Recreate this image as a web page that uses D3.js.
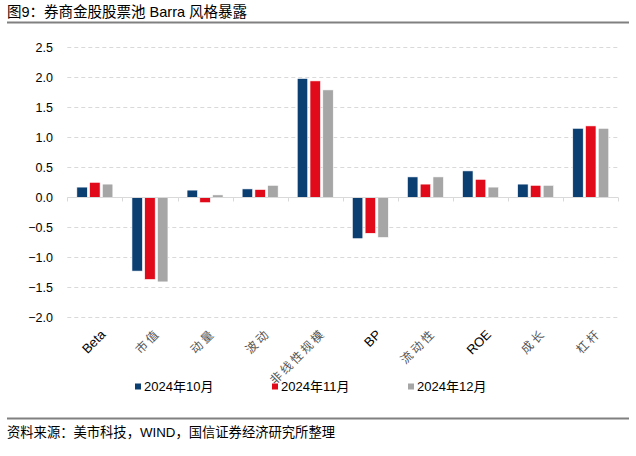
<!DOCTYPE html>
<html><head><meta charset="utf-8">
<script src="https://cdn.jsdelivr.net/npm/d3@7"></script>
<style>body{margin:0;background:#fff;} svg{display:block;}</style>
</head><body>
<script>
const categories = ["Beta","市值","动量","波动","非线性规模","BP","流动性","ROE","成长","杠杆"];
const seriesNames = ["2024年10月","2024年11月","2024年12月"];
const oct = [0.17,-1.23,0.12,0.14,1.98,-0.69,0.34,0.44,0.22,1.15];
const nov = [0.25,-1.37,-0.09,0.13,1.94,-0.60,0.22,0.30,0.20,1.19];
const dec = [0.22,-1.41,0.04,0.20,1.79,-0.67,0.34,0.17,0.20,1.15];
const yTicks = [2.5,2.0,1.5,1.0,0.5,0.0,-0.5,-1.0,-1.5,-2.0];
const colors = ["#0b3f72","#e10a1a","#a6a6a6"];
const series = [oct,nov,dec];

const W=636,H=456;
const svg=d3.select("body").append("svg").attr("width",W).attr("height",H);
const font="Liberation Sans, Arial, 'Noto Sans CJK SC', sans-serif";
const cjk="'Noto Sans CJK SC', sans-serif";

// title
svg.append("text").attr("x",7).attr("y",17).attr("font-family",font).attr("font-size",14.5).attr("fill","#000")
  .text("图9：券商金股股票池 Barra 风格暴露");
svg.append("line").attr("x1",7).attr("x2",629).attr("y1",22.5).attr("y2",22.5).attr("stroke","#808080").attr("stroke-width",2);

const x=d3.scaleBand().domain(categories).range([67.3,618.3]).paddingInner(0).paddingOuter(0);
const y=d3.scaleLinear().domain([-2.0,2.5]).range([317.3,47.3]);
const xs=d3.scaleBand().domain([0,1,2]).range([0,36]).paddingInner(0.18);

// grid
svg.append("g").selectAll("line").data(yTicks.filter(d=>d!==0)).join("line")
  .attr("x1",67.3).attr("x2",618.3).attr("y1",d=>Math.round(y(d))+0.5).attr("y2",d=>Math.round(y(d))+0.5)
  .attr("stroke","#d9d9d9").attr("stroke-dasharray","4,3").attr("stroke-width",1);

// y axis labels
const ya=d3.axisLeft(y).tickValues(yTicks).tickFormat(d3.format(".1f")).tickSize(0).tickPadding(0);
const gy=svg.append("g").attr("transform","translate(53,0)").call(ya);
gy.select(".domain").remove();
gy.selectAll("text").attr("font-family",font).attr("font-size",12.5).attr("fill","#000");

// bars
const groups=svg.append("g").selectAll("g").data(categories).join("g")
  .attr("transform",d=>`translate(${x(d)+x.bandwidth()/2-18},0)`);
groups.selectAll("rect").data((d,i)=>series.map((s,k)=>({k,v:s[i]}))).join("rect")
  .attr("x",d=>xs(d.k)).attr("width",xs.bandwidth())
  .attr("y",d=>y(Math.max(0,d.v))).attr("height",d=>Math.abs(y(d.v)-y(0)))
  .attr("fill",d=>colors[d.k]).attr("stroke","#fff").attr("stroke-width",0.6);

// zero axis with ticks
const y0=Math.round(y(0))+0.5;
svg.append("line").attr("x1",67.3).attr("x2",618.3).attr("y1",y0).attr("y2",y0).attr("stroke","#d9d9d9").attr("stroke-width",1);
const bounds=categories.map(c=>x(c)).concat([618.3]);
svg.append("g").selectAll("line").data(bounds).join("line")
  .attr("x1",d=>Math.round(d)+0.5).attr("x2",d=>Math.round(d)+0.5).attr("y1",y0).attr("y2",y0+4)
  .attr("stroke","#d9d9d9");

// x labels
const isLatin=s=>/^[A-Za-z]+$/.test(s);
svg.append("g").selectAll("text").data(categories).join("text")
  .attr("transform",d=>`translate(${x(d)+x.bandwidth()/2+5},${isLatin(d)?329:328}) rotate(-45)`)
  .attr("text-anchor","end").attr("dy","0.7em")
  .attr("font-family",d=>isLatin(d)?font:cjk)
  .attr("font-size",d=>isLatin(d)?13:12)
  .attr("letter-spacing",d=>isLatin(d)?0:2.5)
  .attr("fill",d=>isLatin(d)?"#000":"#555")
  .text(d=>d);

// legend
const legX=[135,272,408];
const leg=svg.append("g").selectAll("g").data(seriesNames).join("g").attr("transform",(d,i)=>`translate(${legX[i]},0)`);
leg.append("rect").attr("x",0).attr("y",383.5).attr("width",6).attr("height",6).attr("fill",(d,i)=>colors[i]);
leg.append("text").attr("x",9).attr("y",391).attr("font-family",font).attr("font-size",13).attr("fill","#000").text(d=>d);

// bottom
svg.append("line").attr("x1",7).attr("x2",629).attr("y1",418.5).attr("y2",418.5).attr("stroke","#808080").attr("stroke-width",2);
svg.append("text").attr("x",7).attr("y",437).attr("font-family",font).attr("font-size",13.3).attr("fill","#000")
  .text("资料来源：美市科技，WIND，国信证券经济研究所整理");
</script>
</body></html>
